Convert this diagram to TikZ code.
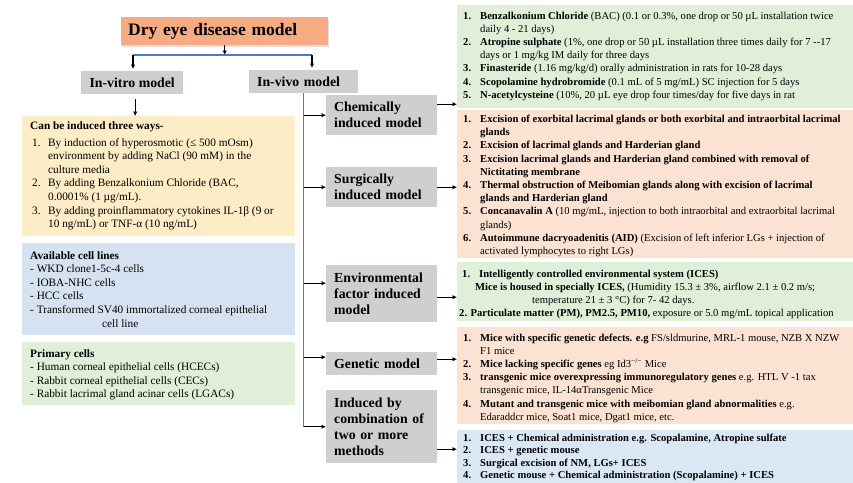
\documentclass[tikz,border=0pt]{standalone}
\usepackage{fontspec}
\setmainfont{Liberation Serif}
\usetikzlibrary{arrows.meta,calc,shadows}
\definecolor{ttl}{HTML}{F7AB82}
\definecolor{grayb}{HTML}{D0CECE}
\definecolor{yel}{HTML}{FDEDC6}
\definecolor{lblue}{HTML}{D6E1F2}
\definecolor{lgreen}{HTML}{E0EFD8}
\definecolor{peach}{HTML}{FCE2D2}
\definecolor{rblue}{HTML}{DAE8F5}
\definecolor{busblue}{HTML}{4A7BC9}
\newcommand\nb[1]{\makebox[17pt][l]{\textbf{#1}}}
\newcommand\ind{\hspace*{17pt}}
\newcommand\lnb[1]{\makebox[16pt][l]{#1}}
\newcommand\lind{\hspace*{18pt}}
\begin{document}
\begin{tikzpicture}[x=1pt,y=-1pt,
  arr/.style={line width=1.1pt,-{Latex[length=4.5pt,width=4.5pt]}},
  bus/.style={draw=busblue,line width=1.5pt},
  gbox/.style={fill=grayb,anchor=north west,inner xsep=8pt,inner ysep=0pt,
    text width=95pt,minimum width=111pt,align=left,
    font=\fontsize{13.8}{16}\selectfont\bfseries},
  pane/.style={anchor=north west,inner sep=0pt,minimum width=#1},
  rtxt/.style={anchor=base west,inner sep=0pt,font=\fontsize{10.6}{13.2}\selectfont},
  ltxt/.style={anchor=base west,inner sep=0pt,font=\fontsize{11.3}{13.6}\selectfont},
]
\useasboundingbox (0,0) rectangle (853,482);

% ---------- top ----------
\node[fill=ttl,anchor=north west,minimum width=207pt,minimum height=28pt,
  text width=193pt,inner xsep=7pt,inner ysep=0pt,align=left,
  font=\fontsize{17.5}{20}\selectfont\bfseries,
  drop shadow={opacity=0.25,shadow xshift=1pt,shadow yshift=-1.5pt}] (title) at (121,17) {Dry eye disease model};

\node[fill=grayb,anchor=north west,minimum width=102pt,minimum height=23pt,inner sep=0pt,
  font=\fontsize{13.8}{16}\selectfont\bfseries] (invitro) at (81,71) {In-vitro model};
\node[fill=grayb,anchor=north west,minimum width=109pt,minimum height=23pt,inner xsep=8pt,inner ysep=0pt,
  text width=93pt,align=left,font=\fontsize{13.8}{16}\selectfont\bfseries] (invivo) at (249,70) {In-vivo model};

\coordinate (busL) at (133,55);
\coordinate (busR) at (312,55);
\draw[arr] (title.south) -- (title.south |- busL);
\draw[bus] (busL) -- (busR);
\draw[arr,shorten >=2pt] (busL) -- (busL |- invitro.north);
\draw[arr,shorten >=2pt] (busR) -- (busR |- invivo.north);

% ---------- in-vitro column ----------
\node[pane=273pt,fill=yel,minimum height=120pt] (cond) at (22,116) {};
\node[pane=273pt,fill=lblue,minimum height=92pt] (lines) at (22,243) {};
\node[pane=273pt,fill=lgreen,minimum height=63pt] (prim) at (22,342) {};

\draw[arr,shorten <=5pt] ([xshift=3pt]invitro.south) -- ([xshift=3pt]invitro.south |- cond.north);

\node[ltxt] (condtxt) at (30,129) {\begin{tabular}[t]{@{}l@{}}
\textbf{Can be induced three ways-}\\[3.4pt]
\hspace*{2pt}\lnb{1.}By induction of hyperosmotic (≤ 500 mOsm)\\
\lind environment by adding NaCl (90 mM) in the\\
\lind culture media\\
\hspace*{2pt}\lnb{2.}By adding Benzalkonium Chloride (BAC,\\
\lind 0.0001\% (1 µg/mL).\\
\hspace*{2pt}\lnb{3.}By adding proinflammatory cytokines IL-1β (9 or\\
\lind 10 ng/mL) or TNF-α (10 ng/mL)
\end{tabular}};

\node[ltxt] (linestxt) at (30,259) {\begin{tabular}[t]{@{}l@{}}
\textbf{Available cell lines}\\
- WKD clone1-5c-4 cells\\
- IOBA-NHC cells\\
- HCC cells\\
- Transformed SV40 immortalized corneal epithelial\\
\hspace*{72pt}cell line
\end{tabular}};

\node[ltxt] (primtxt) at (30,357) {\begin{tabular}[t]{@{}l@{}}
\textbf{Primary cells}\\
- Human corneal epithelial cells (HCECs)\\
- Rabbit corneal epithelial cells (CECs)\\
- Rabbit lacrimal gland acinar cells (LGACs)
\end{tabular}};

% ---------- in-vivo categories ----------
\node[gbox,minimum height=40pt] (chem) at (326,95) {Chemically\\induced model};
\node[gbox,minimum height=40pt] (surg) at (326,167) {Surgically\\induced model};
\node[gbox,minimum height=57pt] (env) at (326,265) {Environmental\\factor induced\\model};
\node[gbox,minimum height=23pt] (gen) at (326,352) {Genetic model};
\node[gbox,minimum height=73pt] (comb) at (326,390) {Induced by\\combination of\\two or more\\methods};

\draw[bus] (invivo.south) -- (invivo.south |- comb.west);
\draw[arr] (invivo.south |- chem.west) -- (chem.west);
\draw[arr] (invivo.south |- surg.west) -- (surg.west);
\draw[arr] ([yshift=10.5pt]invivo.south |- env.west) -- ([yshift=10.5pt]env.west);
\draw[arr] ([yshift=6.5pt]invivo.south |- gen.west) -- ([yshift=6.5pt]gen.west);
\draw[arr] (invivo.south |- comb.west) -- (comb.west);

% ---------- right lists ----------
\node[pane=396pt,fill=lgreen,minimum height=103pt] (chemlist) at (457,5) {};
\node[pane=396pt,fill=peach,minimum height=148pt] (surglist) at (457,110) {};
\node[pane=396pt,fill=lgreen,minimum height=59pt] (envlist) at (457,262) {};
\node[pane=396pt,fill=peach,minimum height=97pt] (genlist) at (457,327) {};
\node[pane=396pt,fill=rblue,minimum height=60pt] (comblist) at (457,430) {};

\draw[arr] ([yshift=11pt]chem.east) -- ([yshift=11pt]chem.east -| chemlist.west);
\draw[arr] (surg.east) -- (surg.east -| surglist.west);
\draw[arr] ([yshift=-3.5pt]env.east) -- ([yshift=-3.5pt]env.east -| envlist.west);
\draw[arr] ([yshift=4.5pt]gen.east) -- ([yshift=4.5pt]gen.east -| genlist.west);
\draw[arr] ([yshift=-22.5pt]comb.east) -- ([yshift=-22.5pt]comb.east -| comblist.west);

\node[rtxt] (chemtxt) at (463,19) {\begin{tabular}[t]{@{}l@{}}
\nb{1.}\textbf{Benzalkonium Chloride} (BAC) (0.1 or 0.3\%, one drop or 50 µL installation twice\\
\ind daily 4 - 21 days)\\
\nb{2.}\textbf{Atropine sulphate} (1\%, one drop or 50 µL installation three times daily for 7 -{}-17\\
\ind days or 1 mg/kg IM daily for three days\\
\nb{3.}\textbf{Finasteride} (1.16 mg/kg/d) orally administration in rats for 10-28 days\\
\nb{4.}\textbf{Scopolamine hydrobromide} (0.1 mL of 5 mg/mL) SC injection for 5 days\\
\nb{5.}\textbf{N-acetylcysteine} (10\%, 20 µL eye drop four times/day for five days in rat
\end{tabular}};

\node[rtxt] (surgtxt) at (463,122.5) {\begin{tabular}[t]{@{}l@{}}
\nb{1.}\textbf{Excision of exorbital lacrimal glands or both exorbital and intraorbital lacrimal}\\
\ind\textbf{glands}\\
\nb{2.}\textbf{Excision of lacrimal glands and Harderian gland}\\
\nb{3.}\textbf{Excision lacrimal glands and Harderian gland combined with removal of}\\
\ind\textbf{Nictitating membrane}\\
\nb{4.}\textbf{Thermal obstruction of Meibomian glands along with excision of lacrimal}\\
\ind\textbf{glands and Harderian gland}\\
\nb{5.}\textbf{Concanavalin A} (10 mg/mL, injection to both intraorbital and extraorbital lacrimal\\
\ind glands)\\
\nb{6.}\textbf{Autoimmune dacryoadenitis (AID)} (Excision of left inferior LGs + injection of\\
\ind activated lymphocytes to right LGs)
\end{tabular}};

\node[rtxt] (envtxt) at (462,277) {\begin{tabular}[t]{@{}l@{}}
\nb{1.}\textbf{Intelligently controlled environmental system (ICES)}\\
\hspace*{13pt}\textbf{Mice is housed in specially ICES,} (Humidity 15.3 ± 3\%, airflow 2.1 ± 0.2 m/s;\\
\hspace*{70pt}temperature 21 ± 3 °C) for 7- 42 days.\\
\hspace*{-3pt}\textbf{2. Particulate matter (PM), PM2.5, PM10,} exposure or 5.0 mg/mL topical application
\end{tabular}};

\node[rtxt] (gentxt) at (463,341) {\begin{tabular}[t]{@{}l@{}}
\nb{1.}\textbf{Mice with specific genetic defects. e.g} FS/sldmurine, MRL-1 mouse, NZB X NZW\\
\ind F1 mice\\
\nb{2.}\textbf{Mice lacking specific genes} eg Id3\textsuperscript{−/−} Mice\\
\nb{3.}\textbf{transgenic mice overexpressing immunoregulatory genes} e.g. HTL V -1 tax\\
\ind transgenic mice, IL-14αTransgenic Mice\\
\nb{4.}\textbf{Mutant and transgenic mice with meibomian gland abnormalities} e.g.\\
\ind Edaraddcr mice, Soat1 mice, Dgat1 mice, etc.
\end{tabular}};

\node[rtxt,font=\fontsize{10.6}{12.5}\selectfont] (combtxt) at (463,441) {\begin{tabular}[t]{@{}l@{}}
\nb{1.}\textbf{ICES + Chemical administration e.g. Scopalamine, Atropine sulfate}\\
\nb{2.}\textbf{ICES + genetic mouse}\\
\nb{3.}\textbf{Surgical excision of NM, LGs+ ICES}\\
\nb{4.}\textbf{Genetic mouse + Chemical administration (Scopalamine) + ICES}
\end{tabular}};
\end{tikzpicture}
\end{document}
